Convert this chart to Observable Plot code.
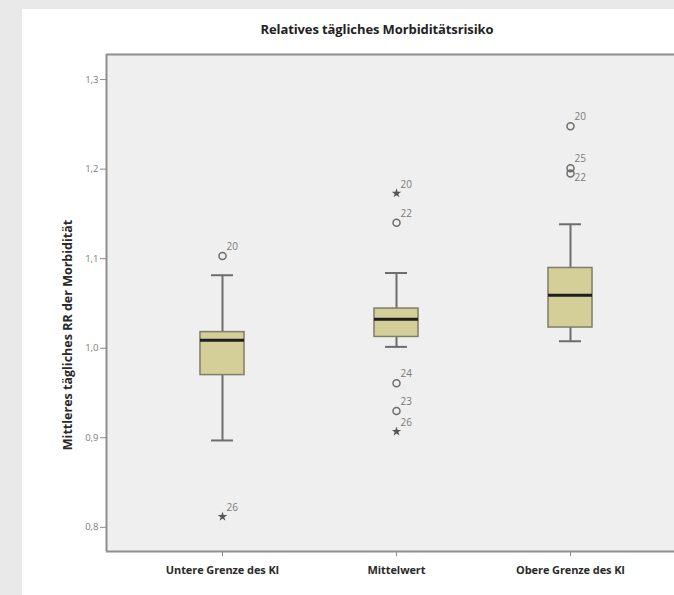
<!DOCTYPE html>
<html>
<head>
<meta charset="utf-8">
<script src="https://cdn.jsdelivr.net/npm/d3@7"></script>
<script src="https://cdn.jsdelivr.net/npm/@observablehq/plot@0.6"></script>
<style>
  html, body { margin: 0; padding: 0; width: 674px; height: 595px; overflow: hidden; background: #e9e9e9; }
  #panel { position: absolute; left: 22px; top: 9px; right: 0; bottom: 0; background: #ffffff; }
  #clip { position: absolute; left: 0; top: 0; width: 674px; height: 595px; overflow: hidden; }
  #chart { position: relative; width: 674px; }
  #title { width: 754px; height: 20px; padding-top: 21px; text-align: center; font: bold 13px "Open Sans", sans-serif; line-height: 16px; color: #222; letter-spacing: -0.1px; }
  #chart svg { display: block; background: transparent; overflow: hidden; }
  #chart g[aria-label^="x-axis"] text { font-weight: bold; font-size: 11px; fill: #2a2a2a; letter-spacing: -0.1px; }
  #chart g[aria-label^="y-axis"] text { fill: #7a7a7a; font-size: 9.5px; }
</style>
</head>
<body>
<div id="panel"></div>
<div id="clip"><div id="chart"><div id="title">Relatives tägliches Morbiditätsrisiko</div></div></div>
<script>
// Box plot summaries per group
const categories = ["Untere Grenze des KI", "Mittelwert", "Obere Grenze des KI"];
const whiskerLow  = [0.897, 1.0015, 1.0078];
const q1          = [0.970, 1.0126, 1.0231];
const median      = [1.009, 1.0324, 1.0592];
const q3          = [1.018, 1.0443, 1.0896];
const whiskerHigh = [1.0815, 1.084, 1.1384];

// Outliers (circle) and extreme values (star) with their case numbers
const outlierGroup   = [0, 0, 1, 1, 1, 1, 1, 2, 2, 2];
const outlierValue   = [1.103, 0.812, 1.173, 1.140, 0.961, 0.930, 0.907, 1.248, 1.201, 1.195];
const outlierCase    = ["20", "26", "20", "22", "24", "23", "26", "20", "25", "22"];
const outlierExtreme = [false, true, true, false, false, false, true, false, false, false];

const yTicks = [0.8, 0.9, 1.0, 1.1, 1.2, 1.3];
const yDomain = [0.773, 1.328];
const yLabel = "Mittleres tägliches RR der Morbidität";

const boxes = categories.map((c, i) => ({
  cat: c, lo: whiskerLow[i], q1: q1[i], med: median[i], q3: q3[i], hi: whiskerHigh[i]
}));

const outliers = outlierValue.map((v, i) => ({
  cat: categories[outlierGroup[i]], value: v, label: outlierCase[i], extreme: outlierExtreme[i]
}));
// a label drops below its point when another point of the same box sits just above it
outliers.forEach(o => {
  o.below = outliers.some(p => p !== o && p.cat === o.cat && p.value > o.value && p.value - o.value < 0.01);
});

const gray = "#6d6d6d";
const frameGray = "#8e8e8e";

// the plot panel runs past the right edge of the page; only its left, top and bottom sides are stroked
const chart = Plot.plot({
  width: 674,
  height: 553,
  marginTop: 13,
  marginBottom: 43,
  marginLeft: 106,
  marginRight: 0,
  style: { fontFamily: "'Open Sans', sans-serif", fontSize: "9.5px", color: "#8a8a8a", background: "transparent" },
  x: {
    domain: categories, range: [106, 686], paddingInner: 0.747, paddingOuter: 0.54,
    label: null, tickSize: 5, tickPadding: 10
  },
  y: {
    domain: yDomain, ticks: yTicks,
    tickFormat: d => d.toFixed(1).replace(".", ","),
    tickSize: 6, tickPadding: 2, label: null
  },
  marks: [
    Plot.frame({ fill: "#efefef", stroke: "none" }),
    Plot.ruleY(yDomain, { stroke: frameGray, strokeWidth: 2 }),
    Plot.ruleX([categories[0]], { y1: yDomain[0], y2: yDomain[1], stroke: frameGray, strokeWidth: 2, dx: -116 }),
    // whiskers
    Plot.ruleX(boxes, { x: "cat", y1: "lo", y2: "q1", stroke: gray, strokeWidth: 2 }),
    Plot.ruleX(boxes, { x: "cat", y1: "q3", y2: "hi", stroke: gray, strokeWidth: 2 }),
    Plot.tickY(boxes, { x: "cat", y: "lo", inset: 11, stroke: gray, strokeWidth: 2 }),
    Plot.tickY(boxes, { x: "cat", y: "hi", inset: 11, stroke: gray, strokeWidth: 2 }),
    // interquartile boxes
    Plot.barY(boxes, { x: "cat", y1: "q1", y2: "q3", fill: "#d4cf98", stroke: "#7f7e68", strokeWidth: 1.5 }),
    Plot.tickY(boxes, { x: "cat", y: "med", stroke: "#1e1e1e", strokeWidth: 3 }),
    // outliers
    Plot.dot(outliers.filter(d => !d.extreme), { x: "cat", y: "value", r: 3.5, stroke: gray, strokeWidth: 1.5, fill: "none" }),
    Plot.dot(outliers.filter(d => d.extreme), { x: "cat", y: "value", symbol: "star", r: 3, fill: "#555", stroke: "none" }),
    Plot.text(outliers.filter(d => !d.below), { x: "cat", y: "value", text: "label", dx: 4, dy: -9, textAnchor: "start", fontSize: 10, fill: "#7a7a7a" }),
    Plot.text(outliers.filter(d => d.below), { x: "cat", y: "value", text: "label", dx: 4, dy: 4, textAnchor: "start", fontSize: 10, fill: "#7a7a7a" }),
    // y axis title
    Plot.text([yLabel], { text: d => d, frameAnchor: "left", rotate: -90, dx: -39, dy: 32, textAnchor: "middle", fontSize: 12.5, fontWeight: "bold", fill: "#2a2a2a", style: "letter-spacing:-0.3px" })
  ]
});

document.getElementById("chart").appendChild(chart);
</script>
</body>
</html>
